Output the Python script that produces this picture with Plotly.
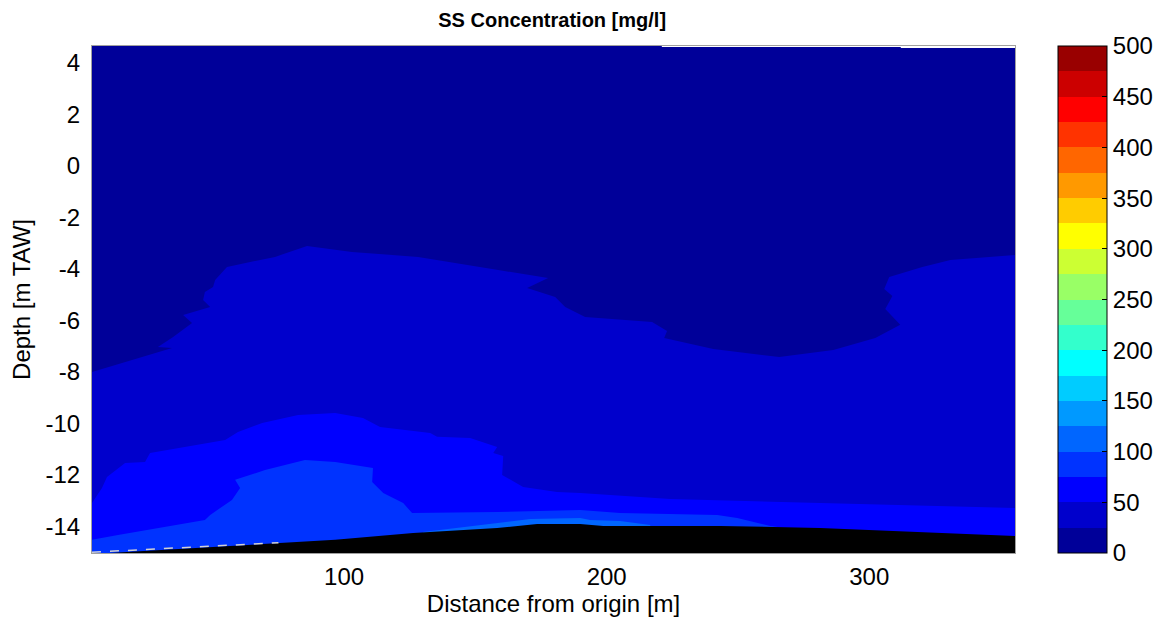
import plotly.graph_objects as go

# jet(20) palette, one colour per 25 mg/l class
jet20 = [
    "rgb(0,0,153)", "rgb(0,0,204)", "rgb(0,0,255)", "rgb(0,51,255)", "rgb(0,102,255)",
    "rgb(0,153,255)", "rgb(0,204,255)", "rgb(0,255,255)", "rgb(51,255,204)", "rgb(102,255,153)",
    "rgb(153,255,102)", "rgb(204,255,51)", "rgb(255,255,0)", "rgb(255,204,0)", "rgb(255,153,0)",
    "rgb(255,102,0)", "rgb(255,51,0)", "rgb(255,0,0)", "rgb(204,0,0)", "rgb(153,0,0)",
]
levels = list(range(0, 525, 25))
cbar_ticks = list(range(0, 550, 50))
x_ticks = [100, 200, 300]
y_ticks = list(range(-14, 6, 2))

x_min, x_max = 4.0, 355.5
y_min, y_max = -15.03, 4.66

# water surface (top of data)
surf_x = [4.0, 221.0, 221.0, 312.0, 312.0, 355.5]
surf_d = [4.66, 4.66, 4.62, 4.62, 4.58, 4.58]

# 25 mg/l isoline
iso25_x = [4.0, 34.5, 29.1, 34.9, 42.1, 38.7, 49.0, 46.3, 47.0, 50.1, 50.9, 55.4, 73.7, 85.9,
           103.0, 128.2, 158.7, 177.7, 169.7, 180.4, 184.2, 191.8, 217.3, 223.0, 221.9, 240.6,
           265.7, 286.3, 302.3, 311.8, 306.1, 308.8, 305.7, 307.6, 320.2, 330.9, 355.5]
iso25_d = [-8.0, -7.07, -7.03, -6.64, -6.10, -5.79, -5.48, -5.20, -4.89, -4.70, -4.43, -3.92,
           -3.53, -3.11, -3.34, -3.53, -4.04, -4.35, -4.74, -5.09, -5.48, -5.86, -6.06, -6.41,
           -6.68, -7.11, -7.42, -7.15, -6.68, -6.17, -5.55, -5.05, -4.78, -4.31, -3.92, -3.65, -3.46]

# 50 mg/l isoline
iso50_x = [4.0, 7.8, 9.7, 13.9, 16.6, 24.2, 26.1, 54.7, 59.6, 68.8, 82.5, 96.6, 107.2, 113.7,
           132.8, 135.4, 148.0, 158.3, 156.8, 160.6, 160.2, 168.2, 181.1, 189.9, 224.2, 281.3, 355.5]
iso50_d = [-13.09, -12.51, -12.08, -11.73, -11.53, -11.50, -11.15, -10.64, -10.33, -9.98, -9.67,
           -9.59, -9.79, -10.14, -10.37, -10.52, -10.56, -10.91, -11.15, -11.26, -12.00, -12.47,
           -12.66, -12.70, -12.93, -13.09, -13.28]

# 75 mg/l isoline
iso75_x = [4.0, 13.9, 47.0, 49.0, 57.3, 60.4, 58.5, 69.9, 85.1, 96.6, 111.0, 110.7, 114.9, 122.5,
           125.9, 158.3, 189.9, 205.1, 242.1, 249.7, 262.3, 265.0]
iso75_d = [-14.52, -14.33, -13.75, -13.55, -12.97, -12.51, -12.19, -11.81, -11.42, -11.50, -11.73,
           -12.27, -12.70, -13.09, -13.48, -13.44, -13.36, -13.48, -13.55, -13.67, -13.98, -14.02]

# 100 mg/l isoline
iso100_x = [130.1, 158.3, 170.9, 189.9, 193.7, 205.1, 211.6, 216.6]
iso100_d = [-14.21, -13.86, -13.71, -13.67, -13.75, -13.79, -13.86, -13.94]

# bed level
bed_x = [4.0, 96.6, 126.3, 158.3, 173.5, 189.9, 198.7, 243.2, 281.3, 355.5]
bed_d = [-15.07, -14.52, -14.25, -14.06, -13.90, -13.90, -13.98, -13.98, -14.06, -14.37]

# surveyed bed (dashed)
survey_x = [4.0, 30.0, 50.0, 75.0]
survey_d = [-15.0, -14.86, -14.76, -14.63]

font = "Liberation Sans, Arial, sans-serif"
bottom = -15.3


def region(xs, ds, color, name):
    px = list(xs) + [xs[-1], xs[0], xs[0]]
    py = list(ds) + [bottom, bottom, ds[0]]
    return go.Scatter(x=px, y=py, mode="lines", fill="toself", fillcolor=color,
                      line=dict(width=0, color=color), hoverinfo="skip", showlegend=False, name=name)


fig = go.Figure()
fig.add_trace(region(surf_x, surf_d, jet20[0], "0-25"))
fig.add_trace(region(iso25_x, iso25_d, jet20[1], "25-50"))
fig.add_trace(region(iso50_x, iso50_d, jet20[2], "50-75"))
fig.add_trace(region(iso75_x, iso75_d, jet20[3], "75-100"))
fig.add_trace(region(iso100_x, iso100_d, jet20[4], "100-125"))
fig.add_trace(region(bed_x, bed_d, "black", "bed"))
fig.add_trace(go.Scatter(x=survey_x, y=survey_d, mode="lines",
                         line=dict(color="rgb(210,210,210)", width=1.5, dash="dash"),
                         hoverinfo="skip", showlegend=False))

# colour bar
cscale = []
for i, c in enumerate(jet20):
    cscale.append([i / 20, c])
    cscale.append([(i + 1) / 20, c])
fig.add_trace(go.Scatter(
    x=[x_min], y=[y_min - 5], mode="markers", showlegend=False, hoverinfo="skip",
    marker=dict(color=[0], cmin=levels[0], cmax=levels[-1], colorscale=cscale, opacity=0, size=1,
                showscale=True,
                colorbar=dict(x=1.0466, xanchor="left", xpad=0, y=0.5, yanchor="middle", ypad=0,
                              len=1, lenmode="fraction", thickness=49, thicknessmode="pixels",
                              outlinecolor="black", outlinewidth=1,
                              tickvals=cbar_ticks, ticktext=[str(v) for v in cbar_ticks],
                              ticks="inside", ticklen=5, tickcolor="black",
                              tickfont=dict(family=font, size=24, color="black"))),
))

# page body has an 8px margin, so margins are shifted by 8px
fig.update_layout(
    width=1169, height=626,
    margin=dict(l=84, r=162, t=38, b=81),
    paper_bgcolor="white", plot_bgcolor="white",
    title=dict(text="<b>SS Concentration [mg/l]</b>", x=0.4655, xanchor="center",
               y=1 - 12 / 626, yanchor="middle",
               font=dict(family=font, size=20, color="black")),
    xaxis=dict(range=[x_min, x_max], tickvals=x_ticks, ticktext=[str(v) for v in x_ticks],
               showgrid=False, zeroline=False, automargin=False,
               ticks="", ticklabelstandoff=2, showline=True, mirror=True, linecolor="rgb(160,160,160)",
               linewidth=1, tickfont=dict(family=font, size=24, color="black"),
               title=dict(text="Distance from origin [m]", standoff=6,
                          font=dict(family=font, size=24, color="black"))),
    yaxis=dict(range=[y_min, y_max], tickvals=y_ticks, ticktext=[str(v) for v in y_ticks],
               showgrid=False, zeroline=False, automargin=False,
               ticks="", ticklabelstandoff=6, showline=True, mirror=True, linecolor="rgb(160,160,160)",
               linewidth=1, tickfont=dict(family=font, size=24, color="black"),
               title=dict(text="Depth [m TAW]", standoff=12,
                          font=dict(family=font, size=24, color="black"))),
)

fig.write_html("out.html")
